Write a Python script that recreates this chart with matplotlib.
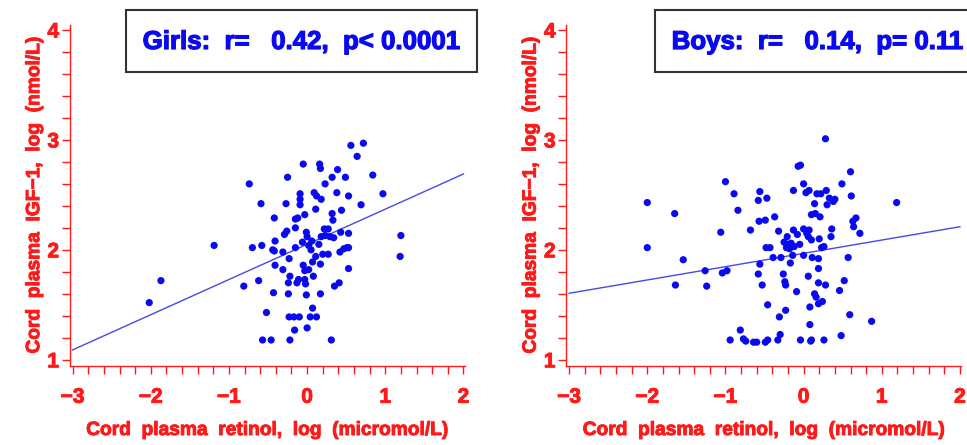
import numpy as np
import matplotlib.pyplot as plt
import matplotlib.patheffects as pe
from matplotlib.patches import Rectangle
from matplotlib.ticker import MultipleLocator

plt.rcParams["font.family"] = ["Liberation Sans", "DejaVu Sans"]
plt.rcParams["font.weight"] = "bold"

# Girls: log retinol vs log IGF-1
girls_x = [-2.02, -1.87, -1.19, -0.81, -0.74, -0.70, -0.62, -0.59, -0.58, -0.57,
           -0.52, -0.46, -0.44, -0.43, -0.42, -0.41, -0.41, -0.42, -0.31, -0.31,
           -0.29, -0.27, -0.26, -0.25, -0.24, -0.24, -0.23, -0.22, -0.22, -0.23,
           -0.17, -0.16, -0.15, -0.15, -0.15, -0.13, -0.12, -0.11, -0.10, -0.09,
           -0.09, -0.09, -0.06, -0.05, -0.05, -0.03, -0.03, -0.03, -0.02, -0.01,
           -0.01, 0.00, 0.00, 0.02, 0.02, 0.04, 0.05, 0.06, 0.07, 0.07,
           0.08, 0.09, 0.11, 0.11, 0.12, 0.12, 0.15, 0.17, 0.17, 0.16,
           0.17, 0.18, 0.18, 0.20, 0.22, 0.23, 0.23, 0.27, 0.27, 0.29,
           0.31, 0.32, 0.32, 0.33, 0.34, 0.35, 0.38, 0.39, 0.41, 0.42,
           0.43, 0.44, 0.47, 0.49, 0.51, 0.53, 0.53, 0.53, 0.53, 0.56,
           0.64, 0.69, 0.72, 0.84, 0.97, 1.20, 1.19]
girls_y = [1.52, 1.72, 2.04, 1.67, 2.60, 2.02, 1.72, 2.42, 2.04, 1.18,
           1.43, 1.18, 2.00, 1.61, 2.29, 2.08, 1.86, 1.99, 1.98, 1.82,
           2.14, 2.42, 2.17, 2.66, 1.70, 1.60, 1.92, 1.76, 1.18, 1.39,
           1.39, 1.27, 2.20, 2.02, 2.28, 1.70, 2.29, 1.73, 1.39, 2.51,
           2.46, 2.41, 2.07, 2.78, 1.86, 2.32, 1.81, 1.73, 1.69, 2.16,
           1.59, 1.29, 2.12, 1.82, 2.04, 1.39, 2.00, 2.08, 1.47, 1.89,
           1.76, 2.52, 2.37, 1.94, 1.39, 2.49, 2.05, 1.60, 1.87, 2.78,
           2.74, 2.46, 2.12, 1.96, 2.19, 2.60, 2.13, 1.96, 2.19, 2.12,
           1.18, 2.33, 2.66, 2.27, 2.11, 1.67, 2.52, 2.73, 1.70, 1.98,
           2.16, 2.36, 2.01, 2.66, 2.02, 2.49, 2.15, 1.83, 2.02, 2.95,
           2.85, 2.41, 2.97, 2.68, 2.51, 2.13, 1.94]

# Boys: log retinol vs log IGF-1
boys_x = [-2.00, -2.00, -1.65, -1.64, -1.54, -1.26, -1.24, -1.06, -1.04, -0.98,
          -1.00, -0.94, -0.89, -0.84, -0.81, -0.77, -0.74, -0.68, -0.64, -0.60,
          -0.58, -0.58, -0.56, -0.56, -0.57, -0.53, -0.49, -0.49, -0.48, -0.47,
          -0.46, -0.46, -0.43, -0.39, -0.37, -0.33, -0.32, -0.31, -0.30, -0.29,
          -0.26, -0.25, -0.24, -0.23, -0.23, -0.22, -0.21, -0.20, -0.18, -0.17,
          -0.16, -0.14, -0.13, -0.13, -0.12, -0.09, -0.08, -0.07, -0.04, -0.05,
          -0.04, 0.00, 0.00, 0.00, 0.03, 0.04, 0.06, 0.06, 0.07, 0.07,
          0.08, 0.08, 0.09, 0.10, 0.10, 0.10, 0.11, 0.14, 0.14, 0.15,
          0.16, 0.17, 0.19, 0.19, 0.19, 0.19, 0.20, 0.21, 0.22, 0.23,
          0.24, 0.26, 0.26, 0.28, 0.28, 0.29, 0.30, 0.33, 0.35, 0.36,
          0.38, 0.40, 0.46, 0.48, 0.49, 0.52, 0.57, 0.59, 0.60, 0.61,
          0.63, 0.64, 0.67, 0.72, 0.87, 1.19]
boys_y = [2.43, 2.02, 2.33, 1.68, 1.91, 1.81, 1.67, 2.16, 1.79, 1.81,
          2.62, 1.18, 2.51, 2.36, 1.27, 1.19, 1.17, 2.18, 1.16, 1.16,
          1.78, 2.45, 2.53, 1.87, 2.26, 1.68, 2.27, 1.16, 2.02, 2.47,
          1.50, 1.18, 2.02, 1.93, 2.30, 1.18, 2.17, 1.39, 1.23, 1.93,
          1.78, 2.07, 1.71, 1.45, 1.68, 2.02, 2.12, 2.05, 2.01, 1.88,
          2.06, 1.95, 2.54, 2.18, 2.03, 1.62, 2.14, 2.76, 2.77, 2.05,
          1.18, 2.60, 1.95, 2.19, 2.52, 2.15, 2.12, 1.76, 2.54, 2.18,
          1.48, 1.32, 1.17, 1.18, 2.09, 2.32, 1.93, 2.42, 1.60, 2.33,
          1.57, 2.51, 1.83, 1.51, 1.92, 1.70, 2.10, 2.30, 2.51, 2.02,
          1.53, 1.18, 2.03, 3.01, 1.68, 2.54, 2.41, 2.47, 2.12, 2.19,
          2.44, 2.46, 1.63, 1.22, 2.60, 1.72, 1.93, 1.41, 2.71, 2.49,
          2.26, 2.21, 2.29, 2.15, 1.35, 2.43]

# fitted lines: intercept, slope
girls_fit = (2.05, 0.32)
boys_fit = (1.968, 0.121)

girls_label = "Girls:  r=   0.42,  p< 0.0001"
boys_label = "Boys:  r=   0.14,  p= 0.11"
xlabel = "Cord  plasma  retinol,  log  (micromol/L)"
ylabel = "Cord  plasma  IGF\u22121,  log  (nmol/L)"

red = "#FF1A1A"
blue = "#0A0AF0"

fig = plt.figure(figsize=(9.67, 4.45), dpi=100)
W, H = 967, 445


def heavy(color, w=0.7):
    return [pe.withStroke(linewidth=w, foreground=color)]


def panel(left_px, xs, ys, fit, label, box_left):
    ax = fig.add_axes([left_px / W, 1 - 365.5 / H, 395.5 / W, 340.5 / H])
    ax.scatter(xs, ys, s=27, color=blue, edgecolors="none", zorder=3)
    lx = np.array([-3, 2])
    ax.plot(lx, fit[0] + fit[1] * lx, color="#4848E8", lw=1.0, zorder=2)
    ax.set_xlim(-3.04, 2.02)
    ax.set_ylim(0.948, 4.045)
    ax.set_xticks([-3, -2, -1, 0, 1, 2])
    ax.set_yticks([1, 2, 3, 4])
    ax.xaxis.set_minor_locator(MultipleLocator(0.2))
    ax.yaxis.set_minor_locator(MultipleLocator(0.2))
    for side in ["top", "right"]:
        ax.spines[side].set_visible(False)
    for side in ["left", "bottom"]:
        ax.spines[side].set_color(red)
        ax.spines[side].set_linewidth(1.0)
    ax.tick_params(which="both", direction="out", length=6, width=1.0,
                   color=red, labelcolor=red, labelsize=15)
    ax.tick_params(axis="x", which="major", pad=10)
    ax.tick_params(axis="y", which="major", pad=1.5)
    ax.set_xlabel(xlabel, color=red, fontsize=13.8, fontweight="bold", labelpad=11,
                  path_effects=heavy(red))
    ax.set_ylabel(ylabel, color=red, fontsize=13.8, fontweight="bold", labelpad=3,
                  path_effects=heavy(red))
    ax.patch.set_alpha(0)

    rect = Rectangle((box_left / W, 1 - 71.7 / H), 351 / W, 61.7 / H,
                     transform=fig.transFigure, facecolor="white",
                     edgecolor="#333333", lw=1.5, clip_on=False)
    fig.patches.append(rect)
    fig.text((box_left + 17) / W, 1 - 42 / H, label, color=blue,
             fontsize=18.6, fontweight="bold", ha="left", va="center",
             path_effects=heavy(blue, 0.9))
    return ax


axes = [panel(69.5, girls_x, girls_y, girls_fit, girls_label, 125.7),
        panel(566, boys_x, boys_y, boys_fit, boys_label, 654.7)]

# tick labels exist only after a draw; thicken them then
fig.canvas.draw()
for ax in axes:
    for t in ax.get_xticklabels() + ax.get_yticklabels():
        t.set_fontweight("bold")
        t.set_path_effects(heavy(red))

fig.savefig("out.png", dpi=100)
